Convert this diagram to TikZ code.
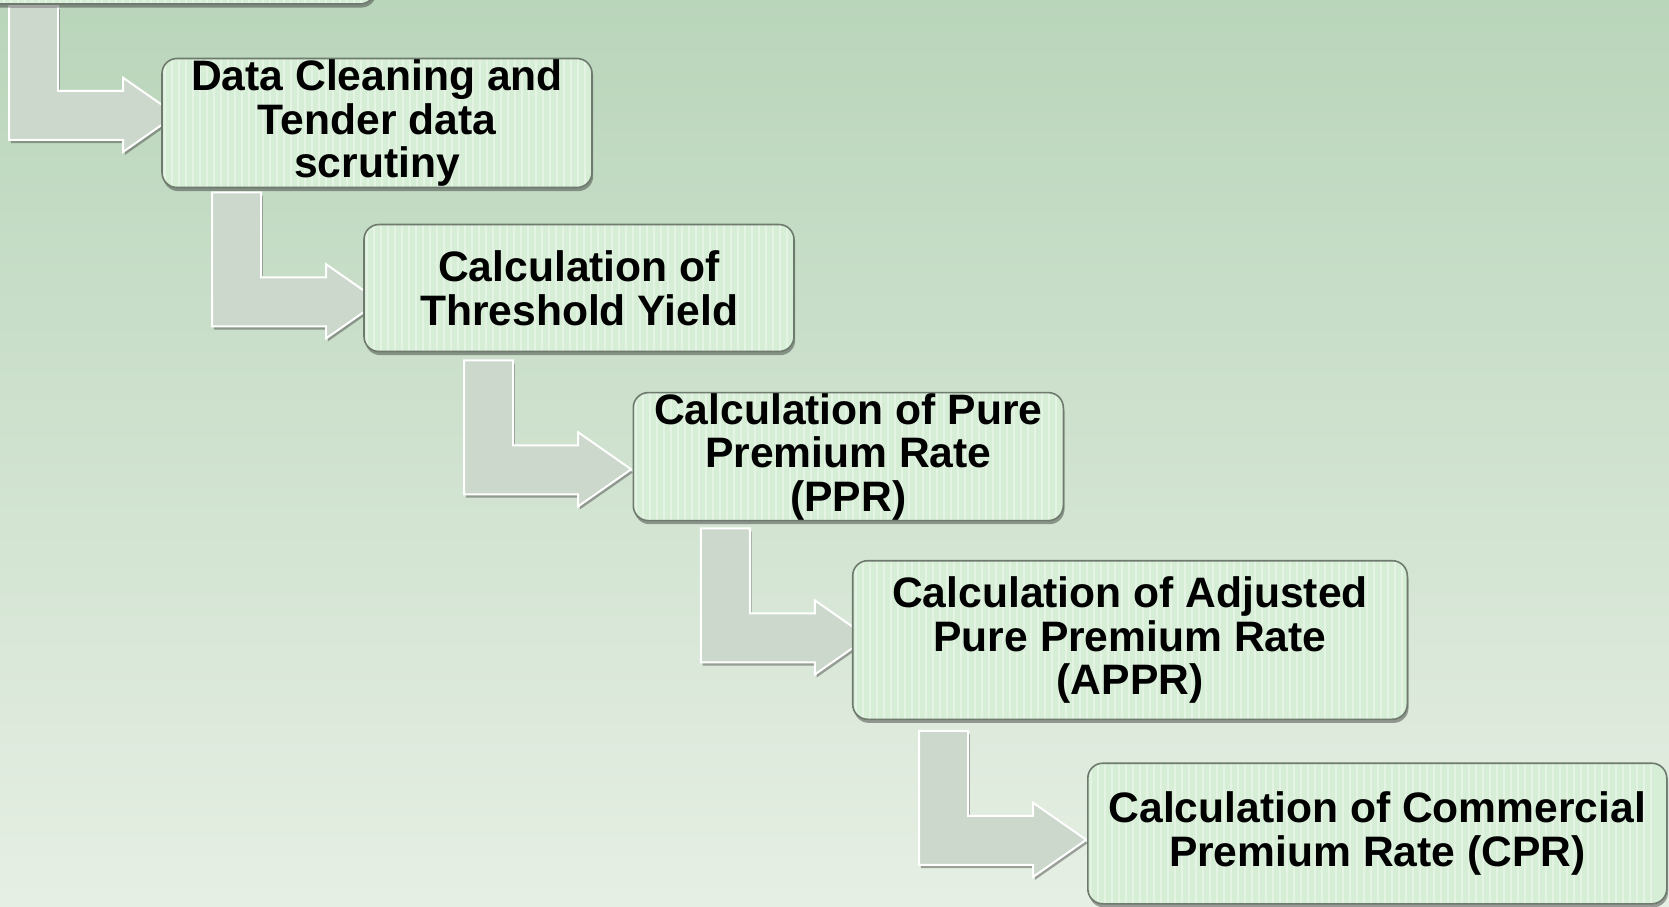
\documentclass[tikz,border=0pt]{standalone}
\usepackage{fontspec}
\setmainfont{Liberation Sans}
\usetikzlibrary{shadows,calc}
\pgfdeclarelayer{bg}
\pgfdeclarelayer{arr}
\pgfsetlayers{bg,arr,main}
\definecolor{bgtop}{RGB}{185,213,186}
\definecolor{bgbot}{RGB}{230,239,228}
\definecolor{boxfill}{RGB}{214,237,214}
\definecolor{boxline}{RGB}{110,122,110}
\definecolor{arrfill}{RGB}{203,216,203}
\tikzset{
  stepbox/.style={draw=boxline, line width=0.8pt, fill=boxfill, rounded corners=7.5pt,
    align=center, inner sep=0pt,
    font=\bfseries\fontsize{21.3pt}{21.8pt}\selectfont,
    drop shadow={shadow xshift=0.6pt, shadow yshift=-1.8pt, opacity=0.45, fill=black!80},
    path picture={
      \foreach \k in {0,...,80}{
        \draw[white, opacity=0.35, line width=0.9pt]
          ($(path picture bounding box.south west)+(\k*7+3,0)$) --
          ($(path picture bounding box.north west)+(\k*7+3,0)$);
      }
    }},
  bendarrow/.style={fill=arrfill, draw=white, line width=1pt, line join=miter,
    drop shadow={shadow xshift=0.8pt, shadow yshift=-1.6pt, opacity=0.45, fill=black!75}}
}
\begin{document}
\begin{tikzpicture}[x=0.5pt, y=-0.5pt]
\useasboundingbox (0,0) rectangle (1669,906);
\begin{pgfonlayer}{bg}
  \fill[top color=bgtop, bottom color=bgbot] (0,0) rectangle (1669,906);
\end{pgfonlayer}

\node[stepbox, minimum width=215pt, minimum height=64pt] (box0) at (160,-60) {};
\node[stepbox, minimum width=215pt, minimum height=64.5pt] (box1) at (377,123)
  {Data Cleaning and\\Tender data\\scrutiny};
\node[stepbox, minimum width=215pt, minimum height=63.5pt] (box2) at (579,288)
  {Calculation of\\Threshold Yield};
\node[stepbox, minimum width=215pt, minimum height=64pt] (box3) at (848.3,456.6)
  {Calculation of Pure\\Premium Rate\\(PPR)};
\node[stepbox, minimum width=277.3pt, minimum height=79.3pt] (box4) at (1130,640)
  {Calculation of Adjusted\\Pure Premium Rate\\(APPR)};
\node[stepbox, minimum width=289.5pt, minimum height=70.3pt] (box5) at (1377.3,833.5)
  {Calculation of Commercial\\Premium Rate (CPR)};

\coordinate (a0) at ($(box0.south west)+(65,1)$);
\coordinate (a1) at ($(box1.south west)+(51,4)$);
\coordinate (a2) at ($(box2.south west)+(101,8)$);
\coordinate (a3) at ($(box3.south west)+(68.4,7)$);
\coordinate (a4) at ($(box4.south west)+(67.3,10.7)$);

\begin{pgfonlayer}{arr}
\foreach \a in {a0,a1,a2,a3,a4}{
  \draw[bendarrow] (\a) -- ++(49,0) -- ++(0,85) -- ++(65,0) -- ++(0,-13)
    -- ++(53,37) -- ++(-53,37) -- ++(0,-12) -- ++(-114,0) -- cycle;
}
\end{pgfonlayer}
\end{tikzpicture}
\end{document}
